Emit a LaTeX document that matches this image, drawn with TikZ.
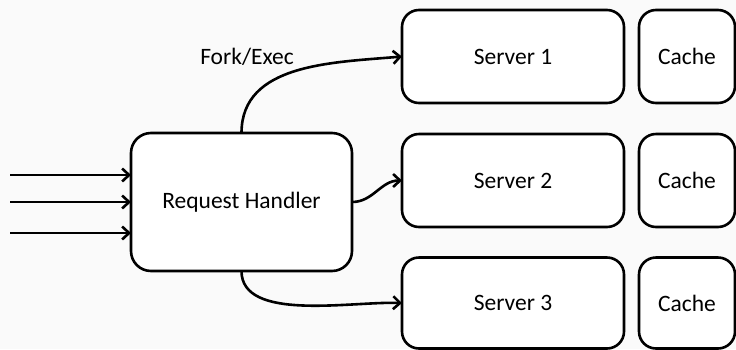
\documentclass[tikz,border=0pt]{standalone}
\usepackage{fontspec}
\setmainfont{Carlito}
\usetikzlibrary{arrows.meta}
\definecolor{bgcol}{HTML}{FAFAFA}
\begin{document}
\begin{tikzpicture}[x=1pt,y=-1pt,
  box/.style={draw=black, fill=white, line width=2.6pt, rounded corners=17pt,
    inner sep=0pt, outer sep=0pt, font=\fontsize{23.5}{28}\selectfont},
  conn/.style={line width=2.6pt, -{Straight Barb[length=7pt,width=13pt,line width=2.6pt]}},
  lbl/.style={font=\fontsize{23.5}{28}\selectfont, inner sep=0pt}]
\fill[bgcol] (0,0) rectangle (736,349);
\useasboundingbox (0,0) rectangle (736,349);
\node[box, rounded corners=20pt, minimum width=221pt, minimum height=138pt] (RH) at (241.5,202) {Request Handler};
\node[box, minimum width=222pt, minimum height=93pt] (S1) at (513,56.5) {Server 1};
\node[box, minimum width=222pt, minimum height=93pt] (S2) at (513,180.5) {Server 2};
\node[box, minimum width=222pt, minimum height=91pt] (S3) at (513,303) {Server 3};
\node[box, minimum width=96pt, minimum height=93pt] (C1) at (687,56.5) {Cache};
\node[box, minimum width=96pt, minimum height=93pt] (C2) at (687,180.5) {Cache};
\node[box, minimum width=96pt, minimum height=91pt] (C3) at (687,303) {Cache};
\node[lbl] (FE) at (247,57) {Fork/Exec};
\coordinate (i1) at (10,175);
\coordinate (i2) at (10,202);
\coordinate (i3) at (10,233);
\draw[conn] (i1) -- (i1 -| RH.west);
\draw[conn] (i2) -- (i2 -| RH.west);
\draw[conn] (i3) -- (i3 -| RH.west);
\draw[conn] (RH.north) to[out=90,in=185] (S1.west);
\draw[conn] (RH.east) to[out=0,in=180] (S2.west);
\draw[conn] (RH.south) to[out=-90,in=178,looseness=0.8] (S3.west);
\end{tikzpicture}
\end{document}
